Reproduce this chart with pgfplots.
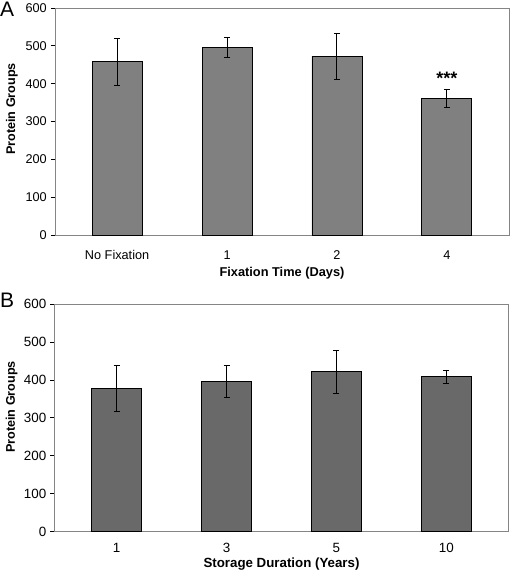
\documentclass[border=0pt]{standalone}
\usepackage{pgfplots}
\pgfplotsset{compat=1.18}
\usepackage{fontspec}
\setmainfont{Liberation Sans}
\definecolor{barA}{HTML}{808080}
\definecolor{barB}{HTML}{696969}
\definecolor{frame}{HTML}{858585}

\pgfplotstableread{
x y e
0 458 62
1 495 26
2 472 60
3 361 23
}\dataA
\pgfplotstableread{
x y e
0 378 61
1 396 43
2 421 56
3 408 18
}\dataB

\pgfplotsset{
  panel/.style={
    scale only axis, width=454pt,
    xmin=-0.565, xmax=3.565, ymin=0, ymax=600,
    ytick={0,100,...,600},
    xtick={0,1,2,3},
    axis line style={frame, line width=1pt},
    major tick length=4pt,
    ytick style={black, line width=0.8pt},
    xtick style={draw=none},
    tick align=outside,
    tick pos=left,
    /pgf/number format/assume math mode=true,
    yticklabel style={anchor=east, inner sep=0pt, xshift=-4pt},
    ylabel style={rotate=0, anchor=base, inner sep=0pt, font=\bfseries\fontsize{12.6}{15}\selectfont},
    xlabel style={at={(axis description cs:0.5,0)}, anchor=base, inner sep=0pt},
    ybar, bar width=50pt,
    ylabel={Protein Groups},
  }
}

\begin{document}
\begin{tikzpicture}
\useasboundingbox (0,0) rectangle (510pt,-571pt);
\node[anchor=base west, inner sep=0pt, font=\fontsize{21}{21}\selectfont] at (0pt,-16.7pt) {A};
\node[anchor=base west, inner sep=0pt, font=\fontsize{21}{21}\selectfont] at (0pt,-307.7pt) {B};

\begin{axis}[panel, at={(55pt,-235pt)}, anchor=south west, height=227pt,
  ticklabel style={font=\fontsize{12.7}{14}\selectfont},
  xticklabels={No Fixation,1,2,4},
  xticklabel style={anchor=base, inner sep=0pt, yshift=-20pt},
  xlabel={Fixation Time (Days)},
  xlabel style={yshift=-41.7pt, font=\bfseries\fontsize{12.8}{15}\selectfont},
  ylabel style={at={(axis description cs:-0.088,0.555)}},
]
\addplot[fill=barA, draw=black, line width=0.9pt,
  error bars/.cd, y dir=both, y explicit,
  error bar style={black, line width=1pt},
  error mark options={rotate=90, black, line width=1pt, mark size=3pt}]
  table[x=x, y=y, y error=e] {\dataA};
\node[anchor=base, inner sep=0pt, font=\bfseries\fontsize{18}{18}\selectfont] at (axis cs:3,398) {***};
\end{axis}

\begin{axis}[panel, at={(54.5pt,-531.7pt)}, anchor=south west, height=227.7pt,
  ticklabel style={font=\fontsize{13.4}{15}\selectfont},
  xticklabels={1,3,5,10},
  xticklabel style={anchor=base, inner sep=0pt, yshift=-16.7pt},
  xlabel={Storage Duration (Years)},
  xlabel style={yshift=-36pt, font=\bfseries\fontsize{13.3}{15}\selectfont},
  ylabel style={at={(axis description cs:-0.087,0.548)}},
]
\addplot[fill=barB, draw=black, line width=0.9pt,
  error bars/.cd, y dir=both, y explicit,
  error bar style={black, line width=1pt},
  error mark options={rotate=90, black, line width=1pt, mark size=3pt}]
  table[x=x, y=y, y error=e] {\dataB};
\end{axis}
\end{tikzpicture}
\end{document}
